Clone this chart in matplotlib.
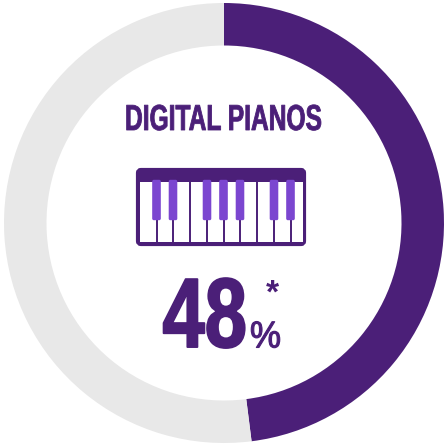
import matplotlib
matplotlib.use("Agg")
import matplotlib.pyplot as plt
from matplotlib.patches import FancyBboxPatch, Rectangle
from matplotlib.patheffects import AbstractPathEffect
from matplotlib.transforms import Affine2D, Bbox

# data
shares = [48, 52]
title = "DIGITAL PIANOS"
value_label = "48"
sharp_keys = [156.5, 173, 207, 223.5, 240, 274, 290.5]
key_lines = [156.5, 173, 190, 207, 223.5, 240, 257, 274, 290.5]

purple = "#4b1f78"
light = "#e8e8e8"
key_col = "#7b46d0"

plt.rcParams['font.family'] = ['Liberation Sans', 'DejaVu Sans']


# no condensed font installed, so squeeze the glyphs sideways when drawn
class Squeeze(AbstractPathEffect):
    def __init__(self, sx, lw=0.0):
        super().__init__()
        self.sx = sx
        self.lw = lw

    def draw_path(self, renderer, gc, tpath, affine, rgbFace=None):
        gc0 = renderer.new_gc()
        gc0.copy_properties(gc)
        gc0.set_linewidth(self.lw)
        gc0.set_foreground(rgbFace)
        renderer.draw_path(gc0, tpath, Affine2D().scale(self.sx, 1) + affine, rgbFace)
        gc0.restore()


def narrow_text(axes, x, y, s, sx, lw, **kw):
    t = axes.text(x, y, s, ha='left', va='baseline', color=purple,
                  path_effects=[Squeeze(sx, lw)], **kw)
    # report the squeezed box, not the full width one
    full_extent = t.get_window_extent

    def extent(renderer=None, dpi=None):
        b = full_extent(renderer, dpi)
        return Bbox.from_extents(b.x0, b.y0, b.x0 + b.width * sx, b.y1)

    t.get_window_extent = extent
    return t


fig = plt.figure(figsize=(4.48, 4.48), dpi=100)

# ring
ax = fig.add_axes([0, 0, 1, 1])
ax.pie(shares, colors=[purple, light], startangle=90, counterclock=False,
       radius=220, center=(224, 225), frame=True,
       wedgeprops=dict(width=42.5, linewidth=0))
ax.set_xlim(0, 448)
ax.set_ylim(0, 448)
ax.axis('off')

# icon and text, axes in image pixels (y down)
ov = fig.add_axes([0, 0, 1, 1])
ov.set_xlim(0, 448)
ov.set_ylim(448, 0)
ov.axis('off')
ov.patch.set_alpha(0)

ov.add_patch(FancyBboxPatch((138, 170), 166, 74, boxstyle="round,pad=0,rounding_size=3",
                            fc=purple, ec=purple, lw=3))
ov.add_patch(Rectangle((139.5, 182), 163, 60.5, fc="white", ec="none"))
for x in key_lines:
    ov.plot([x, x], [182, 243], color=purple, lw=1.4, solid_capstyle='butt', zorder=1.5)
for x in sharp_keys:
    ov.add_patch(FancyBboxPatch((x - 3.6, 180.5), 7.2, 39, boxstyle="round,pad=0,rounding_size=1",
                                fc=key_col, ec=key_col, lw=1, zorder=2))

narrow_text(ov, 125, 130, title, 0.68, 0.6, fontsize=26, fontweight='bold')
narrow_text(ov, 162.5, 347, value_label, 0.77, 1.4, fontsize=71, fontweight='bold')
narrow_text(ov, 250, 347.5, "%", 0.93, 0.8, fontsize=27)
ov.text(266, 303, "*", ha='left', va='baseline', fontsize=24, fontweight='bold', color=purple)

fig.savefig("out.png", dpi=100)
